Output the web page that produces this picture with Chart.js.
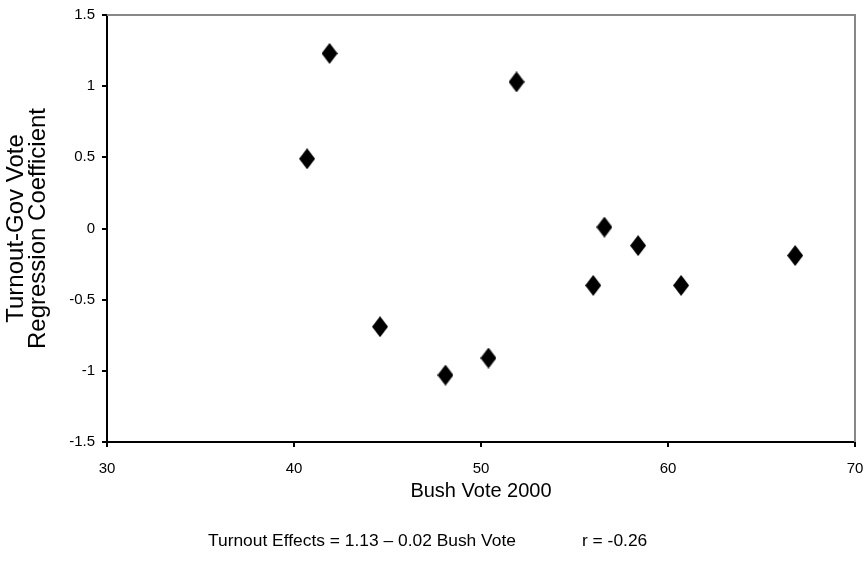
<!DOCTYPE html>
<html>
<head>
<meta charset="utf-8">
<script src="https://cdn.jsdelivr.net/npm/chart.js@4.4.1/dist/chart.umd.min.js"></script>
<style>
  html, body { margin: 0; padding: 0; background: #fff; }
  canvas { display: block; }
</style>
</head>
<body>
<canvas id="scatter" width="867" height="564"></canvas>
<script>
// Bush share of the 2000 vote (x) and turnout-gov vote regression coefficient (y)
const bushVote = [40.7, 41.9, 44.6, 48.1, 50.4, 51.9, 56.0, 56.6, 58.4, 60.7, 66.8];
const turnoutCoef = [0.49, 1.23, -0.69, -1.03, -0.91, 1.03, -0.40, 0.01, -0.12, -0.40, -0.19];

// Axis text
const xTitle = "Bush Vote 2000";
const yTitle = ["Turnout-Gov Vote", "Regression Coefficient"];
const footLeft = "Turnout Effects = 1.13 \u2013 0.02 Bush Vote";
const footRight = "r = -0.26";

const tickFont = { family: "'Liberation Sans Narrow', 'Liberation Sans', Arial, sans-serif", size: 15 };
const xTitleFont = { family: "'Liberation Sans', Arial, sans-serif", size: 20 };
// Tall, tight lines for the rotated y title
const yTitleFont = { family: "'Liberation Sans', Arial, sans-serif", size: 24, lineHeight: 0.94 };

// Build a tall diamond marker, like the Excel one
function makeDiamond(w, h) {
  const c = document.createElement("canvas");
  c.width = w;
  c.height = h;
  const g = c.getContext("2d");
  g.fillStyle = "black";
  g.beginPath();
  g.moveTo(w / 2, 0);
  g.lineTo(w, h / 2);
  g.lineTo(w / 2, h);
  g.lineTo(0, h / 2);
  g.closePath();
  g.fill();
  return c;
}

// Gray frame on the top and right side of the plot area
const plotFrame = {
  id: "plotFrame",
  beforeDatasetsDraw(chart) {
    const { ctx, chartArea } = chart;
    ctx.save();
    ctx.strokeStyle = "#888888";
    ctx.lineWidth = 2;
    ctx.beginPath();
    ctx.moveTo(chartArea.left, chartArea.top);
    ctx.lineTo(chartArea.right, chartArea.top);
    ctx.lineTo(chartArea.right, chartArea.bottom);
    ctx.stroke();
    ctx.restore();
  },
};

// Regression note under the chart
const footNote = {
  id: "footNote",
  afterDraw(chart) {
    const { ctx } = chart;
    ctx.save();
    ctx.font = "17.4px 'Liberation Sans', Arial, sans-serif";
    ctx.fillStyle = "black";
    ctx.textBaseline = "middle";
    ctx.textAlign = "left";
    ctx.fillText(footLeft, 208, 541);
    ctx.fillText(footRight, 582, 541);
    ctx.restore();
  },
};

const points = bushVote.map((x, i) => ({ x: x, y: turnoutCoef[i] }));

const config = {
  type: "scatter",
  data: {
    datasets: [
      {
        data: points,
        pointStyle: makeDiamond(16, 21),
        pointRadius: 10,
        pointHoverRadius: 10,
      },
    ],
  },
  options: {
    responsive: false,
    animation: false,
    layout: { padding: { top: 15, right: 12, left: 0, bottom: 0 } },
    plugins: {
      legend: { display: false },
      tooltip: { enabled: false },
    },
    scales: {
      x: {
        type: "linear",
        min: 30,
        max: 70,
        ticks: { stepSize: 10, color: "black", font: tickFont, padding: 13 },
        grid: { drawOnChartArea: false, drawTicks: true, tickLength: 5, color: "black", lineWidth: 2 },
        border: { display: true, color: "black", width: 2 },
        title: { display: true, text: xTitle, color: "black", font: xTitleFont, padding: { top: 0, bottom: 61 } },
        afterFit(scale) {
          scale.height = 122;
          // let the layout padding alone decide the plot edges
          scale.paddingLeft = 0;
          scale.paddingRight = 0;
        },
      },
      y: {
        type: "linear",
        min: -1.5,
        max: 1.5,
        ticks: {
          stepSize: 0.5,
          color: "black",
          font: tickFont,
          padding: 7,
          // Excel style: 1 rather than 1.0
          callback: (value) => String(value),
        },
        grid: { drawOnChartArea: false, drawTicks: true, tickLength: 5, color: "black", lineWidth: 2 },
        border: { display: true, color: "black", width: 2 },
        title: { display: true, text: yTitle, color: "black", font: yTitleFont, padding: { top: 5, bottom: 0 } },
        afterFit(scale) {
          scale.width = 107;
          scale.paddingTop = 0;
          scale.paddingBottom = 0;
        },
      },
    },
  },
  plugins: [plotFrame, footNote],
};

const ctx = document.getElementById("scatter").getContext("2d");
const myChart = new Chart(ctx, config);
</script>
</body>
</html>
